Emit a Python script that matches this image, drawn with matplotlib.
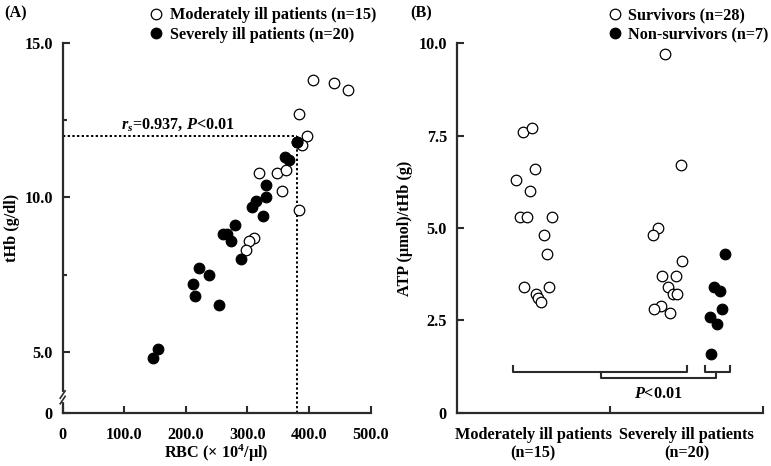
import numpy as np
import matplotlib
matplotlib.use("Agg")
import matplotlib.pyplot as plt
from matplotlib.lines import Line2D

plt.rcParams['font.family'] = ['Liberation Serif', 'DejaVu Serif']
plt.rcParams['font.weight'] = 'bold'
plt.rcParams['axes.labelweight'] = 'bold'
plt.rcParams['mathtext.fontset'] = 'custom'
plt.rcParams['mathtext.rm'] = 'Liberation Serif:bold'
plt.rcParams['mathtext.it'] = 'Liberation Serif:bold:italic'
plt.rcParams['mathtext.bf'] = 'Liberation Serif:bold'

# panel A: RBC vs tHb
mod_rbc = [406, 440, 463, 383, 397, 389, 318, 348, 362, 356, 383, 310, 302, 297, 380]
mod_thb = [13.8, 13.7, 13.5, 12.7, 12.0, 11.7, 10.8, 10.8, 10.9, 10.2, 9.6, 8.7, 8.6, 8.3, 11.8]
sev_rbc = [380, 361, 367, 330, 330, 314, 307, 325, 280, 261, 266, 273, 290,
           222, 238, 212, 214, 253, 154, 147]
sev_thb = [11.8, 11.3, 11.2, 10.4, 10.0, 9.9, 9.7, 9.4, 9.1, 8.8, 8.8, 8.6, 8.0,
           7.7, 7.5, 7.2, 6.8, 6.5, 5.1, 4.8]
rs_text = r'$r_s$=0.937, $P$<0.01'
cut_rbc, cut_thb = 380, 12.0

# panel B: ATP/tHb by group
groups = ['Moderately ill patients\n(n=15)', 'Severely ill patients\n(n=20)']
mod_x = [0.43, 0.49, 0.51, 0.39, 0.48, 0.41, 0.46, 0.62, 0.57, 0.59, 0.44, 0.60, 0.52, 0.53, 0.55]
mod_atp = [7.6, 7.7, 6.6, 6.3, 6.0, 5.3, 5.3, 5.3, 4.8, 4.3, 3.4, 3.4, 3.2, 3.1, 3.0]
sev_surv_x = [1.36, 1.46, 1.31, 1.28, 1.47, 1.34, 1.43, 1.38, 1.41, 1.44, 1.33, 1.29, 1.39]
sev_surv_atp = [9.7, 6.7, 5.0, 4.8, 4.1, 3.7, 3.7, 3.4, 3.2, 3.2, 2.9, 2.8, 2.7]
nonsurv_x = [1.75, 1.68, 1.72, 1.73, 1.65, 1.70, 1.66]
nonsurv_atp = [4.3, 3.4, 3.3, 2.8, 2.6, 2.4, 1.6]

axis_col = '#2b2b2b'
ms = 7.6
fs = 11.7

fig = plt.figure(figsize=(7.71, 4.66), dpi=100)
axA = fig.add_axes([0.0813, 0.1144, 0.3995, 0.7926])
axB = fig.add_axes([0.5923, 0.1144, 0.3977, 0.7926])

for ax in (axA, axB):
    for s in ('top', 'right'):
        ax.spines[s].set_visible(False)
    for s in ('left', 'bottom'):
        ax.spines[s].set_linewidth(1.6)
        ax.spines[s].set_color(axis_col)
    ax.tick_params(which='both', direction='in', width=1.5, color=axis_col,
                   labelsize=fs, pad=7)
    ax.tick_params(axis='x', which='both', pad=10)
    ax.tick_params(which='major', length=5)
    ax.tick_params(which='minor', length=3)

# ---- A ----
ybot = 3.02
axA.plot([0, cut_rbc], [cut_thb, cut_thb], ls=(0, (1.2, 1.2)), color='black', lw=1.4, zorder=1)
axA.plot([cut_rbc, cut_rbc], [ybot, cut_thb], ls=(0, (1.2, 1.2)), color='black', lw=1.4, zorder=1)
axA.plot(mod_rbc, mod_thb, 'o', ms=ms, mfc='white', mec='black', mew=0.9, zorder=2, clip_on=False)
axA.plot(sev_rbc, sev_thb, 'o', ms=ms, mfc='black', mec='black', mew=0.9, zorder=3, clip_on=False)
axA.set_xlim(0, 500)
axA.set_ylim(ybot, 15.0)
axA.set_xticks([0, 100, 200, 300, 400, 500])
axA.set_xticklabels(['0', '100.0', '200.0', '300.0', '400.0', '500.0'])
axA.set_yticks([ybot, 5, 10, 15])
axA.set_yticklabels(['0', '5.0', '10.0', '15.0'])
axA.set_yticks([7.5, 12.5], minor=True)
axA.set_xlabel('RBC (× 10$^4$/μl)', fontsize=fs, labelpad=0)
axA.set_ylabel('tHb (g/dl)', fontsize=fs, labelpad=3)
axA.text(187, 12.38, rs_text, fontsize=fs, ha='center', va='center')
# axis break marks
axA.plot([0, 0], [3.43, 3.61], color='white', lw=3, clip_on=False, zorder=5)
for yb in (3.43, 3.61):
    axA.plot([-4, 4], [yb - 0.12, yb + 0.12], color=axis_col, lw=1.2, clip_on=False, zorder=6)

# ---- B ----
axB.plot(mod_x, mod_atp, 'o', ms=ms, mfc='white', mec='black', mew=0.9)
axB.plot(sev_surv_x, sev_surv_atp, 'o', ms=ms, mfc='white', mec='black', mew=0.9)
axB.plot(nonsurv_x, nonsurv_atp, 'o', ms=ms, mfc='black', mec='black', mew=0.9)
axB.set_xlim(0, 2)
axB.set_ylim(0, 10)
axB.set_yticks([0, 2.5, 5, 7.5, 10])
axB.set_yticklabels(['0', '2.5', '5.0', '7.5', '10.0'])
axB.set_xticks([1, 2])
axB.set_xticklabels(['', ''])
axB.set_xticks([0.5, 1.5], minor=True)
axB.set_xticklabels(groups, minor=True, fontsize=fs, linespacing=1.2)
axB.tick_params(axis='x', which='minor', length=0, pad=10)
axB.set_ylabel('ATP (μmol)/tHb (g)', fontsize=fs, labelpad=4)

bk = dict(color=axis_col, lw=1.5)
axB.plot([0.37, 0.37, 1.50, 1.50], [1.27, 1.11, 1.11, 1.27], **bk)
axB.plot([1.62, 1.62, 1.78, 1.78], [1.27, 1.11, 1.11, 1.27], **bk)
axB.plot([0.94, 0.94, 1.69, 1.69], [1.11, 0.95, 0.95, 1.11], **bk)
axB.text(1.315, 0.51, '$P$<0.01', fontsize=fs, ha='center', va='center')

# panel letters
fig.text(0.006, 0.972, '(A)', fontsize=fs, va='center')
fig.text(0.532, 0.972, '(B)', fontsize=fs, va='center')

# legends
hA = [Line2D([], [], ls='none', marker='o', ms=ms, mfc='white', mec='black', mew=0.9),
      Line2D([], [], ls='none', marker='o', ms=ms, mfc='black', mec='black', mew=0.9)]
fig.legend(hA, ['Moderately ill patients (n=15)', 'Severely ill patients (n=20)'],
           loc='upper left', bbox_to_anchor=(0.181, 1.005), frameon=False, fontsize=fs,
           handlelength=0.8, handletextpad=0.45, labelspacing=0.2, borderaxespad=0.2)
fig.legend(hA, ['Survivors (n=28)', 'Non-survivors (n=7)'],
           loc='upper left', bbox_to_anchor=(0.776, 1.005), frameon=False, fontsize=fs,
           handlelength=0.8, handletextpad=0.45, labelspacing=0.2, borderaxespad=0.2)

fig.savefig('out.png', dpi=100)
